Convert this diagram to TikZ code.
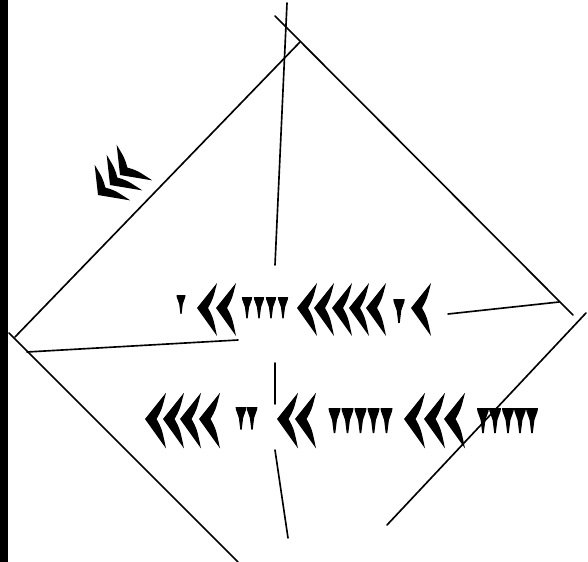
\documentclass[tikz,border=0pt]{standalone}
\begin{document}
\begin{tikzpicture}[x=0.03cm, y=-0.03cm]
\tikzset{
  side/.style={line width=1.4pt, line cap=round},
  ink/.style={fill=black},
  vwedge/.pic={\fill[ink] (-6,0) -- (6,0) -- (5.6,3) -- (2.4,12) -- (0.8,25) -- (-0.8,25) -- (-2.4,12) -- (-5.6,3) -- cycle;},
  hook/.pic={\fill[ink] (0,0) -- (20,-25) .. controls (16,-9) .. (11,0) .. controls (16,9) .. (20,28) -- cycle;}
}
\useasboundingbox (0,0) rectangle (588,562);

% Dark edge (left)
\fill (0,0) rectangle (8,562);

% Square
\draw[side] (15,337) -- (300,42);
\draw[side] (275,16) -- (573,315);
\draw[side] (586,313) -- (387,525);
\draw[side] (9,333) -- (238,562);

% Diagonals
\draw[side] (27,352) -- (238,340);
\draw[side] (448,314) -- (559,302);
\draw[side] (287,3) -- (275,265);
\draw[side] (275,363) -- (275,404);
\draw[side] (275,450) -- (288,538);

% Side: 30
\pic[rotate=45, scale=0.95] at (98,195) {hook};
\pic[rotate=45, scale=0.95] at (110,185) {hook};
\pic[rotate=45, scale=0.95] at (120,175) {hook};

% Upper row: 1 24 51 10
\pic[scale=0.75] at (181,295) {vwedge};
\pic at (197,308) {hook};
\pic at (216,308) {hook};
\pic[scale=0.85] at (247,297) {vwedge};
\pic[scale=0.85] at (259,297) {vwedge};
\pic[scale=0.85] at (271,297) {vwedge};
\pic[scale=0.85] at (283,297) {vwedge};
\pic at (297,308) {hook};
\pic at (314,308) {hook};
\pic at (332,308) {hook};
\pic at (349,308) {hook};
\pic at (366,308) {hook};
\pic[scale=0.95] at (399,299) {vwedge};
\pic at (411,308) {hook};

% Lower row: 42 25 35
\pic[scale=1.05] at (145,419) {hook};
\pic[scale=1.05] at (163,419) {hook};
\pic[scale=1.05] at (180,419) {hook};
\pic[scale=1.05] at (199,419) {hook};
\pic[scale=0.9] at (241,407) {vwedge};
\pic[scale=0.9] at (252,407) {vwedge};
\pic[scale=1.05] at (277,419) {hook};
\pic[scale=1.05] at (295,419) {hook};
\pic at (334.5,408) {vwedge};
\pic at (347.5,408) {vwedge};
\pic at (360.5,408) {vwedge};
\pic at (373.5,408) {vwedge};
\pic at (386.5,408) {vwedge};
\pic[scale=1.05] at (404,419) {hook};
\pic[scale=1.05] at (424,419) {hook};
\pic[scale=1.05] at (444,419) {hook};
\pic at (483,408) {vwedge};
\pic at (495,408) {vwedge};
\pic at (508,408) {vwedge};
\pic at (520,408) {vwedge};
\pic at (532,408) {vwedge};

\end{tikzpicture}
\end{document}
